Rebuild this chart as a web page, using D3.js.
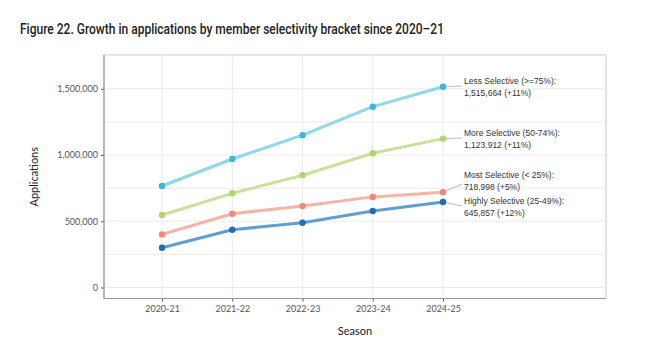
<!DOCTYPE html>
<html>
<head>
<meta charset="utf-8">
<script src="https://cdn.jsdelivr.net/npm/d3@7"></script>
<style>
  body { margin: 0; background: #fff; }
  svg { display: block; }
</style>
</head>
<body>
<script>
// data
var seasons = ["2020-21", "2021-22", "2022-23", "2023-24", "2024-25"];
var lessSel   = [766000, 970000, 1150000, 1365000, 1515664];
var moreSel   = [547000, 711000, 847000, 1013000, 1123912];
var mostSel   = [401000, 557000, 615000, 684000, 718998];
var highlySel = [300000, 436000, 489000, 577000, 645857];
var seriesNames = ["Less Selective (>=75%):", "More Selective (50-74%):", "Most Selective (< 25%):", "Highly Selective (25-49%):"];
var endLabels = ["1,515,664 (+11%)", "1,123,912 (+11%)", "718,998 (+5%)", "645,857 (+12%)"];
var yTicks = [0, 500000, 1000000, 1500000];

var width = 655, height = 352;
var pLeft = 104, pRight = 606, pTop = 55, pBottom = 298.5;

var lineColors  = ["#8fd7eb", "#c9e29b", "#f5b4a4", "#609dd0"];
var pointColors = ["#3fb4dc", "#b3d46a", "#ef8a74", "#1f6db2"];
// label placement (y of first text line) next to the last point
var labelY = [80.5, 132.5, 174.5, 200.5];
var labelAnchorY = [86, 138, 184, 206];

var svg = d3.select("body").append("svg")
    .attr("width", width)
    .attr("height", height);

svg.append("text")
    .attr("x", 20).attr("y", 34)
    .attr("font-family", "Roboto, 'Noto Sans', sans-serif")
    .attr("font-weight", 500)
    .attr("font-size", 14)
    .attr("fill", "#222")
    .attr("textLength", 424)
    .attr("lengthAdjust", "spacingAndGlyphs")
    .text("Figure 22. Growth in applications by member selectivity bracket since 2020\u201321");

var x = d3.scaleLinear().domain([-0.826, 6.32]).range([pLeft, pRight]);
var y = d3.scaleLinear().domain([-83000, 1755000]).range([pBottom, pTop]);

// panel border
svg.append("rect")
    .attr("x", pLeft).attr("y", pTop)
    .attr("width", pRight - pLeft).attr("height", pBottom - pTop)
    .attr("fill", "#fff").attr("stroke", "#c8c8c8").attr("stroke-width", 1);

// grid
var grid = svg.append("g");
grid.selectAll("line.h")
    .data(d3.range(0, 1750001, 250000))
    .join("line")
    .attr("x1", pLeft).attr("x2", pRight)
    .attr("y1", function(d) { return y(d); })
    .attr("y2", function(d) { return y(d); })
    .attr("stroke", "#ebebeb").attr("stroke-width", 1);
grid.selectAll("line.v")
    .data(seasons)
    .join("line")
    .attr("x1", function(d, i) { return x(i); })
    .attr("x2", function(d, i) { return x(i); })
    .attr("y1", pTop).attr("y2", pBottom)
    .attr("stroke", "#ebebeb").attr("stroke-width", 1);

// axes
var yAxis = d3.axisLeft(y).tickValues(yTicks).tickSize(3).tickPadding(3)
    .tickFormat(d3.format(","));
var xAxis = d3.axisBottom(x).tickValues(d3.range(seasons.length)).tickSize(3).tickPadding(4)
    .tickFormat(function(i) { return seasons[i]; });

var gy = svg.append("g").attr("transform", "translate(" + pLeft + ",0)").call(yAxis);
var gx = svg.append("g").attr("transform", "translate(0," + pBottom + ")").call(xAxis);
[gx, gy].forEach(function(g) {
    g.select(".domain").remove();
    g.selectAll(".tick line").attr("stroke", "#555");
    g.selectAll(".tick text")
        .attr("font-family", "Lato, 'Noto Sans', sans-serif")
        .attr("font-size", 9)
        .attr("fill", "#555");
});
svg.append("line").attr("x1", pLeft).attr("x2", pLeft).attr("y1", pTop).attr("y2", pBottom + 0.5)
    .attr("stroke", "#999").attr("stroke-width", 1.2);
svg.append("line").attr("x1", pLeft).attr("x2", pRight).attr("y1", pBottom).attr("y2", pBottom)
    .attr("stroke", "#999").attr("stroke-width", 1.2);

// axis titles
svg.append("text")
    .attr("transform", "translate(38," + ((pTop + pBottom) / 2) + ") rotate(-90)")
    .attr("text-anchor", "middle")
    .attr("font-family", "Lato, 'Noto Sans', sans-serif")
    .attr("font-size", 11)
    .attr("fill", "#222")
    .text("Applications");
svg.append("text")
    .attr("x", 355).attr("y", 335)
    .attr("text-anchor", "middle")
    .attr("font-family", "Lato, 'Noto Sans', sans-serif")
    .attr("font-size", 11)
    .attr("fill", "#222")
    .text("Season");

// series
var allSeries = [lessSel, moreSel, mostSel, highlySel];
var line = d3.line()
    .x(function(d, i) { return x(i); })
    .y(function(d) { return y(d); });

allSeries.forEach(function(vals, k) {
    svg.append("path")
        .attr("d", line(vals))
        .attr("fill", "none")
        .attr("stroke", lineColors[k])
        .attr("stroke-width", 3)
        .attr("stroke-linejoin", "round");
});

allSeries.forEach(function(vals, k) {
    var last = vals.length - 1;
    // connector to label
    svg.append("line")
        .attr("x1", x(last)).attr("y1", y(vals[last]))
        .attr("x2", x(last) + 19).attr("y2", labelAnchorY[k])
        .attr("stroke", "#aaa").attr("stroke-width", 0.8);
    svg.selectAll(null)
        .data(vals)
        .join("circle")
        .attr("cx", function(d, i) { return x(i); })
        .attr("cy", function(d) { return y(d); })
        .attr("r", 3.2)
        .attr("fill", pointColors[k]);
    var t = svg.append("text")
        .attr("font-family", "'Liberation Sans', Arial, sans-serif")
        .attr("font-size", 8.5)
        .attr("fill", "#333");
    t.append("tspan").attr("x", x(last) + 21).attr("y", labelY[k] + 3).text(seriesNames[k]);
    t.append("tspan").attr("x", x(last) + 21).attr("y", labelY[k] + 15.5).text(endLabels[k]);
});
</script>
</body>
</html>
